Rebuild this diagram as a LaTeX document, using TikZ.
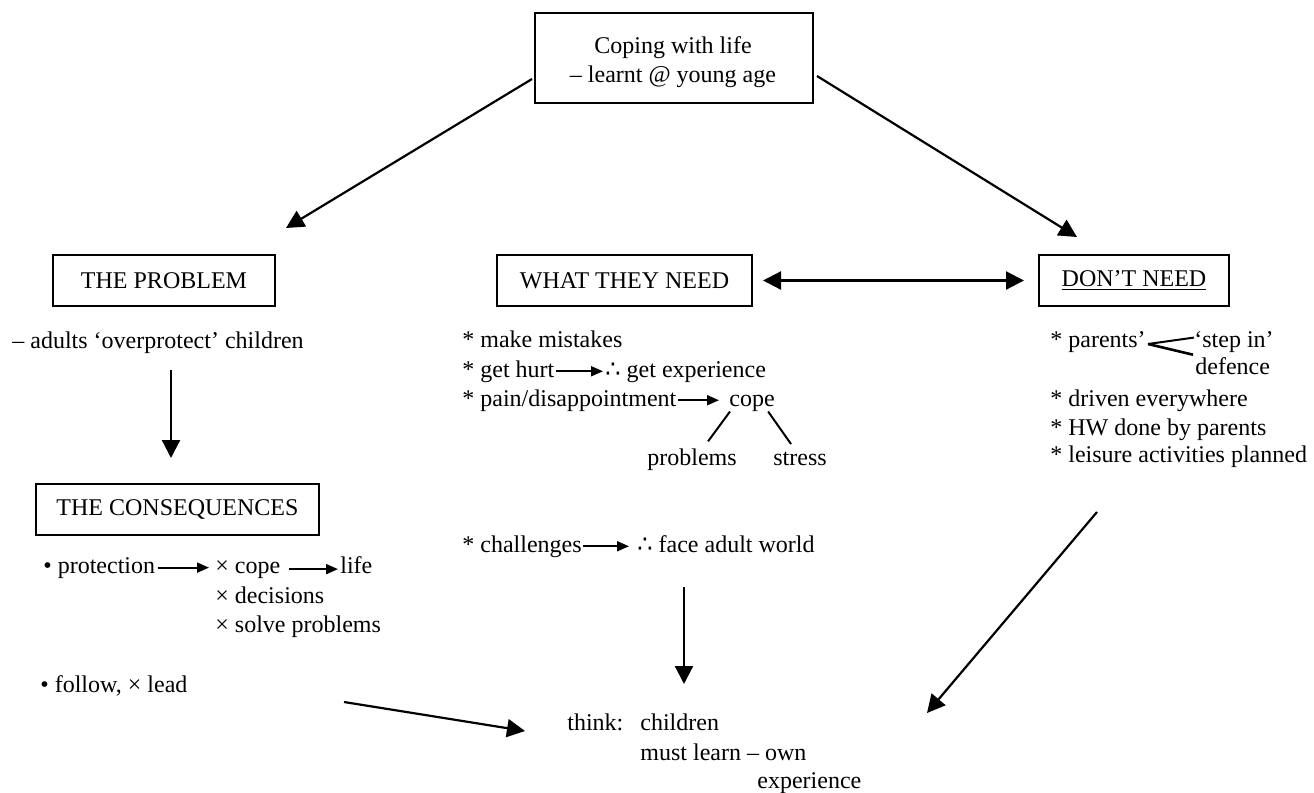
\documentclass[tikz,border=0pt]{standalone}
\usepackage{fontspec}
\setmainfont{Liberation Serif}
\newfontfamily\symfont{DejaVu Sans}
\usetikzlibrary{arrows.meta}
\begin{document}
\begin{tikzpicture}[x=0.5pt,y=-0.5pt,
  font=\fontsize{12}{14.5}\selectfont,
  txt/.style={anchor=base west, inner sep=0pt},
  box/.style={draw, line width=1pt, inner sep=0pt, align=center},
  bigarrow/.style={line width=1.1pt, -{Triangle[length=9pt,width=9pt]}},
  dblarrow/.style={line width=1.1pt, {Triangle[length=9pt,width=9pt]}-{Triangle[length=9pt,width=9pt]}},
  smallarrow/.style={line width=1pt, -{Triangle[length=6pt,width=5pt]}},
  thinline/.style={line width=1pt}]
\useasboundingbox (0,0) rectangle (1314,793);

% boxes
\node[box, minimum width=139pt, minimum height=45pt] (top) at (674,58) {};
\node[inner sep=0pt, align=center] (toptext) at (673,62) {Coping with life\\– learnt @ young age};
\node[box, minimum width=111pt, minimum height=25.5pt] (problem) at (164,280.5) {THE PROBLEM};
\node[box, minimum width=141.5pt, minimum height=25.5pt] (conseq) at (177.5,509.5) {THE CONSEQUENCES};
\node[box, minimum width=127.5pt, minimum height=25.5pt] (wtn) at (624.5,280.5) {WHAT THEY NEED};
\node[box, minimum width=95pt, minimum height=25.5pt] (dn) at (1134,280.5) {\underline{DON’T NEED}};

% left column
\node[txt] (overprot) at (12,348) {– adults ‘overprotect’ children};
\node[txt] (prot) at (43,573) {• protection};
\node[txt] (xcope) at (215,573) {× cope};
\node[txt] (life) at (340,573) {life};
\node[txt] (xdec) at (215,603) {× decisions};
\node[txt] (xsolve) at (215,632) {× solve problems};
\node[txt] (follow) at (40,692) {• follow, × lead};

% middle column
\node[txt] (mist) at (462,347) {* make mistakes};
\node[txt] (hurt) at (462,377) {* get hurt};
\node[txt] (exper) at (605,377) {{\symfont ∴} get experience};
\node[txt] (pain) at (462,406) {* pain/disappointment};
\node[txt] (cope) at (729,406) {cope};
\node[txt] (probs) at (647,465) {problems};
\node[txt] (stress) at (773,465) {stress};
\node[txt] (chall) at (462,552) {* challenges};
\node[txt] (face) at (637,552) {{\symfont ∴} face adult world};

% bottom
\node[txt] (think) at (567,730) {think:};
\node[txt] (child) at (640,730) {children};
\node[txt] (must) at (640,760) {must learn – own};
\node[txt] (experb) at (757,788) {experience};

% right column
\node[txt] (parents) at (1050,347) {* parents’};
\node[txt] (stepin) at (1194,347) {‘step in’};
\node[txt] (defence) at (1195,374) {defence};
\node[txt] (driven) at (1050,406) {* driven everywhere};
\node[txt] (hw) at (1050,435) {* HW done by parents};
\node[txt] (leisure) at (1050,462) {* leisure activities planned};

% connector end points
\coordinate (tl0) at (532,79);
\coordinate (tl1) at (286,228);
\coordinate (tr0) at (817,76);
\coordinate (tr1) at (1077,237);
\coordinate (pd0) at (171,370);
\coordinate (pd1) at (171,458);
\coordinate (fl0) at (344,702);
\coordinate (fl1) at (525,731);
\coordinate (md0) at (684,587);
\coordinate (md1) at (684,684);
\coordinate (rd0) at (1097,512);
\coordinate (rd1) at (927,713);
\coordinate (pv) at (1148,344);

% big arrows
\draw[bigarrow] (tl0) -- (tl1);
\draw[bigarrow] (tr0) -- (tr1);
\draw[bigarrow] (pd0) -- (pd1);
\draw[bigarrow] (fl0) -- (fl1);
\draw[bigarrow] (md0) -- (md1);
\draw[bigarrow] (rd0) -- (rd1);
\draw[dblarrow] ([xshift=5pt]wtn.east) -- ([xshift=-7pt]dn.west);

% small inline arrows
\draw[smallarrow] ([xshift=1pt]prot.east) -- ([xshift=-3pt]prot.east -| xcope.west);
\draw[smallarrow] ([xshift=4pt]xcope.east) -- ([xshift=-1pt]xcope.east -| life.west);
\draw[smallarrow] ([xshift=0.5pt]hurt.east) -- ([xshift=-1pt]hurt.east -| exper.west);
\draw[smallarrow] ([xshift=0.5pt]pain.east) -- ([xshift=-5pt]pain.east -| cope.west);
\draw[smallarrow] ([xshift=0.5pt]chall.east) -- ([xshift=-4pt]chall.east -| face.west);

% cope branches
\draw[thinline] ([xshift=0.5pt]cope.south west) -- ([xshift=8pt,yshift=3.3pt]probs.north);
\draw[thinline] ([xshift=-3.5pt]cope.south east) -- ([xshift=-4.5pt,yshift=3.5pt]stress.north);

% parents branches
\draw[thinline] (pv) -- ([yshift=2pt]stepin.west);
\draw[line width=1.3pt] (pv) -- ([xshift=-1pt,yshift=1pt]defence.north west);
\end{tikzpicture}
\end{document}
